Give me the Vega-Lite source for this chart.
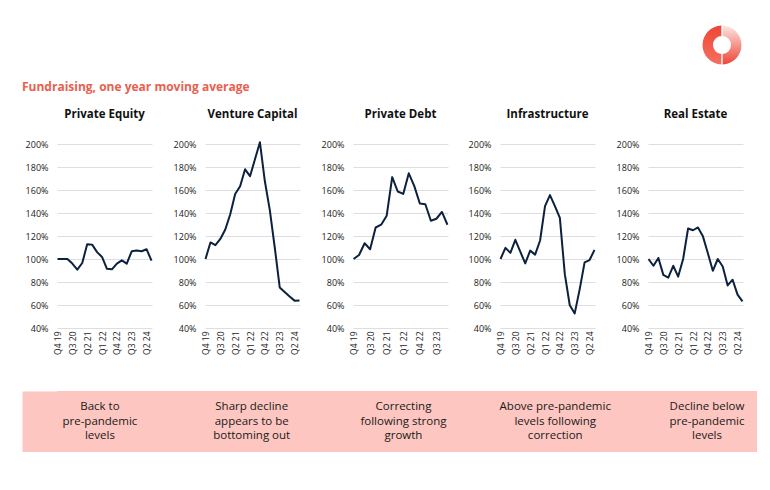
{
  "$schema": "https://vega.github.io/schema/vega-lite/v6.json",
  "padding": {"left": 22, "top": 23, "right": 0, "bottom": 0},
  "config": {"font": "Open Sans", "view": {"stroke": null}},
  "spacing": 13,
  "vconcat": [
    {
      "width": 700,
      "height": 44,
      "data": {"values": [{"part": "right", "share": 1}, {"part": "left", "share": 1}]},
      "transform": [{"stack": "share", "groupby": [], "as": ["a0", "a1"]}],
      "layer": [
        {
          "transform": [{"filter": "datum.part == 'right'"}],
          "mark": {"type": "arc", "innerRadius": 9, "outerRadius": 19.5, "padAngle": 0.06,
            "fill": {"gradient": "linear", "x1": 0, "y1": 0, "x2": 0, "y2": 1, "stops": [{"offset": 0, "color": "#fde6e2"}, {"offset": 1, "color": "#ef4536"}]}},
          "encoding": {
            "theta": {"field": "a0", "type": "quantitative", "scale": {"domain": [0, 2]}},
            "theta2": {"field": "a1"},
            "x": {"datum": 0.95, "type": "quantitative", "scale": {"domain": [0, 1], "nice": false, "zero": false}, "axis": null}
          }
        },
        {
          "transform": [{"filter": "datum.part == 'left'"}],
          "mark": {"type": "arc", "innerRadius": 9, "outerRadius": 19.5, "padAngle": 0.06,
            "fill": {"gradient": "linear", "x1": 0, "y1": 0, "x2": 0, "y2": 1, "stops": [{"offset": 0, "color": "#ef4536"}, {"offset": 1, "color": "#f4705f"}]}},
          "encoding": {
            "theta": {"field": "a0", "type": "quantitative", "scale": {"domain": [0, 2]}},
            "theta2": {"field": "a1"},
            "x": {"datum": 0.95, "type": "quantitative", "scale": {"domain": [0, 1], "nice": false, "zero": false}, "axis": null}
          }
        }
      ]
    },
    {
      "spacing": 36,
      "vconcat": [
        {
          "title": {"text": "Fundraising, one year moving average", "anchor": "start", "fontSize": 12, "fontWeight": "bold", "color": "#e9604f", "offset": 15},
          "data": {"values": [
            {"asset": "Private Equity", "quarter": "Q4 19", "value": 100},
            {"asset": "Private Equity", "quarter": "Q1 20", "value": 100},
            {"asset": "Private Equity", "quarter": "Q2 20", "value": 100},
            {"asset": "Private Equity", "quarter": "Q3 20", "value": 96},
            {"asset": "Private Equity", "quarter": "Q4 20", "value": 90.7},
            {"asset": "Private Equity", "quarter": "Q1 21", "value": 96.5},
            {"asset": "Private Equity", "quarter": "Q2 21", "value": 112.8},
            {"asset": "Private Equity", "quarter": "Q3 21", "value": 112.5},
            {"asset": "Private Equity", "quarter": "Q4 21", "value": 106},
            {"asset": "Private Equity", "quarter": "Q1 22", "value": 101.8},
            {"asset": "Private Equity", "quarter": "Q2 22", "value": 91.5},
            {"asset": "Private Equity", "quarter": "Q3 22", "value": 91},
            {"asset": "Private Equity", "quarter": "Q4 22", "value": 96},
            {"asset": "Private Equity", "quarter": "Q1 23", "value": 98.8},
            {"asset": "Private Equity", "quarter": "Q2 23", "value": 96},
            {"asset": "Private Equity", "quarter": "Q3 23", "value": 106.7},
            {"asset": "Private Equity", "quarter": "Q4 23", "value": 107.3},
            {"asset": "Private Equity", "quarter": "Q1 24", "value": 106.7},
            {"asset": "Private Equity", "quarter": "Q2 24", "value": 108.5},
            {"asset": "Private Equity", "quarter": "Q3 24", "value": 98.5},
            {"asset": "Venture Capital", "quarter": "Q4 19", "value": 100},
            {"asset": "Venture Capital", "quarter": "Q1 20", "value": 114.4},
            {"asset": "Venture Capital", "quarter": "Q2 20", "value": 112},
            {"asset": "Venture Capital", "quarter": "Q3 20", "value": 117.4},
            {"asset": "Venture Capital", "quarter": "Q4 20", "value": 125.6},
            {"asset": "Venture Capital", "quarter": "Q1 21", "value": 138.9},
            {"asset": "Venture Capital", "quarter": "Q2 21", "value": 156.5},
            {"asset": "Venture Capital", "quarter": "Q3 21", "value": 163.3},
            {"asset": "Venture Capital", "quarter": "Q4 21", "value": 178},
            {"asset": "Venture Capital", "quarter": "Q1 22", "value": 172},
            {"asset": "Venture Capital", "quarter": "Q2 22", "value": 186.8},
            {"asset": "Venture Capital", "quarter": "Q3 22", "value": 201.5},
            {"asset": "Venture Capital", "quarter": "Q4 22", "value": 167.6},
            {"asset": "Venture Capital", "quarter": "Q1 23", "value": 142.5},
            {"asset": "Venture Capital", "quarter": "Q2 23", "value": 110},
            {"asset": "Venture Capital", "quarter": "Q3 23", "value": 75.3},
            {"asset": "Venture Capital", "quarter": "Q4 23", "value": 71.4},
            {"asset": "Venture Capital", "quarter": "Q1 24", "value": 67.4},
            {"asset": "Venture Capital", "quarter": "Q2 24", "value": 63.8},
            {"asset": "Venture Capital", "quarter": "Q3 24", "value": 64},
            {"asset": "Private Debt", "quarter": "Q4 19", "value": 100},
            {"asset": "Private Debt", "quarter": "Q1 20", "value": 103.5},
            {"asset": "Private Debt", "quarter": "Q2 20", "value": 113.7},
            {"asset": "Private Debt", "quarter": "Q3 20", "value": 108.5},
            {"asset": "Private Debt", "quarter": "Q4 20", "value": 127.4},
            {"asset": "Private Debt", "quarter": "Q1 21", "value": 129.8},
            {"asset": "Private Debt", "quarter": "Q2 21", "value": 137.7},
            {"asset": "Private Debt", "quarter": "Q3 21", "value": 171.2},
            {"asset": "Private Debt", "quarter": "Q4 21", "value": 158.7},
            {"asset": "Private Debt", "quarter": "Q1 22", "value": 156.6},
            {"asset": "Private Debt", "quarter": "Q2 22", "value": 174.5},
            {"asset": "Private Debt", "quarter": "Q3 22", "value": 163.4},
            {"asset": "Private Debt", "quarter": "Q4 22", "value": 148.2},
            {"asset": "Private Debt", "quarter": "Q1 23", "value": 147.6},
            {"asset": "Private Debt", "quarter": "Q2 23", "value": 133.3},
            {"asset": "Private Debt", "quarter": "Q3 23", "value": 135},
            {"asset": "Private Debt", "quarter": "Q4 23", "value": 140.9},
            {"asset": "Private Debt", "quarter": "Q1 24", "value": 129.8},
            {"asset": "Infrastructure", "quarter": "Q4 19", "value": 100},
            {"asset": "Infrastructure", "quarter": "Q1 20", "value": 109.7},
            {"asset": "Infrastructure", "quarter": "Q2 20", "value": 105.3},
            {"asset": "Infrastructure", "quarter": "Q3 20", "value": 116.7},
            {"asset": "Infrastructure", "quarter": "Q4 20", "value": 106.4},
            {"asset": "Infrastructure", "quarter": "Q1 21", "value": 96.2},
            {"asset": "Infrastructure", "quarter": "Q2 21", "value": 107.3},
            {"asset": "Infrastructure", "quarter": "Q3 21", "value": 103.8},
            {"asset": "Infrastructure", "quarter": "Q4 21", "value": 116.1},
            {"asset": "Infrastructure", "quarter": "Q1 22", "value": 146},
            {"asset": "Infrastructure", "quarter": "Q2 22", "value": 155.6},
            {"asset": "Infrastructure", "quarter": "Q3 22", "value": 146},
            {"asset": "Infrastructure", "quarter": "Q4 22", "value": 135.7},
            {"asset": "Infrastructure", "quarter": "Q1 23", "value": 86.8},
            {"asset": "Infrastructure", "quarter": "Q2 23", "value": 59.8},
            {"asset": "Infrastructure", "quarter": "Q3 23", "value": 52.7},
            {"asset": "Infrastructure", "quarter": "Q4 23", "value": 73.6},
            {"asset": "Infrastructure", "quarter": "Q1 24", "value": 97.1},
            {"asset": "Infrastructure", "quarter": "Q2 24", "value": 99.1},
            {"asset": "Infrastructure", "quarter": "Q3 24", "value": 107.9},
            {"asset": "Real Estate", "quarter": "Q4 19", "value": 100},
            {"asset": "Real Estate", "quarter": "Q1 20", "value": 94.1},
            {"asset": "Real Estate", "quarter": "Q2 20", "value": 100.9},
            {"asset": "Real Estate", "quarter": "Q3 20", "value": 86.2},
            {"asset": "Real Estate", "quarter": "Q4 20", "value": 83.8},
            {"asset": "Real Estate", "quarter": "Q1 21", "value": 94.1},
            {"asset": "Real Estate", "quarter": "Q2 21", "value": 84.7},
            {"asset": "Real Estate", "quarter": "Q3 21", "value": 100},
            {"asset": "Real Estate", "quarter": "Q4 21", "value": 126.5},
            {"asset": "Real Estate", "quarter": "Q1 22", "value": 125},
            {"asset": "Real Estate", "quarter": "Q2 22", "value": 127.4},
            {"asset": "Real Estate", "quarter": "Q3 22", "value": 119.7},
            {"asset": "Real Estate", "quarter": "Q4 22", "value": 105},
            {"asset": "Real Estate", "quarter": "Q1 23", "value": 89.7},
            {"asset": "Real Estate", "quarter": "Q2 23", "value": 100},
            {"asset": "Real Estate", "quarter": "Q3 23", "value": 93.5},
            {"asset": "Real Estate", "quarter": "Q4 23", "value": 77},
            {"asset": "Real Estate", "quarter": "Q1 24", "value": 82},
            {"asset": "Real Estate", "quarter": "Q2 24", "value": 69},
            {"asset": "Real Estate", "quarter": "Q3 24", "value": 63.2}
          ]},
          "facet": {
            "column": {
              "field": "asset", "type": "nominal",
              "sort": ["Private Equity", "Venture Capital", "Private Debt", "Infrastructure", "Real Estate"],
              "title": null,
              "header": {"labelFontSize": 11.5, "labelFontWeight": "bold", "labelColor": "#111111", "labelPadding": 20, "labelFont": "Open Sans"}
            }
          },
          "spacing": 13,
          "resolve": {"scale": {"x": "independent"}, "axis": {"x": "independent", "y": "independent"}},
          "spec": {
            "width": 95,
            "height": 184,
            "mark": {"type": "line", "color": "#0c213d", "strokeWidth": 2, "strokeJoin": "round"},
            "encoding": {
              "x": {
                "field": "quarter", "type": "ordinal", "sort": null,
                "scale": {"type": "point", "padding": 0.1},
                "axis": {
                  "title": null, "domain": false, "ticks": false, "grid": false,
                  "labelAngle": 270, "labelFontSize": 8.5, "labelColor": "#222222", "labelPadding": 3, "labelOverlap": false,
                  "labelExpr": "indexof(['Q4 19','Q3 20','Q2 21','Q1 22','Q4 22','Q3 23','Q2 24'], datum.label) >= 0 ? datum.label : ''"
                }
              },
              "y": {
                "field": "value", "type": "quantitative",
                "scale": {"domain": [40, 200], "nice": false, "zero": false},
                "axis": {
                  "title": null, "domain": false, "ticks": false, "grid": true, "gridColor": "#dedede", "gridWidth": 1,
                  "values": [40, 60, 80, 100, 120, 140, 160, 180, 200],
                  "labelExpr": "datum.value + '%'", "labelFontSize": 9, "labelColor": "#222222", "labelPadding": 9, "minExtent": 35
                }
              }
            }
          }
        },
        {
          "width": 700,
          "height": 61,
          "view": {"fill": "#fdc6c0", "stroke": null},
          "data": {"values": [
            {"asset": "Private Equity", "note": "Back to\npre-pandemic\nlevels"},
            {"asset": "Venture Capital", "note": "Sharp decline\nappears to be\nbottoming out"},
            {"asset": "Private Debt", "note": "Correcting\nfollowing strong\ngrowth"},
            {"asset": "Infrastructure", "note": "Above pre-pandemic\nlevels following\ncorrection"},
            {"asset": "Real Estate", "note": "Decline below\npre-pandemic\nlevels"}
          ]},
          "mark": {"type": "text", "lineBreak": "\n", "fontSize": 11.5, "lineHeight": 14.5, "dy": -14.5, "color": "#1a1a1a", "font": "Open Sans"},
          "encoding": {
            "x": {
              "field": "asset", "type": "nominal",
              "sort": ["Private Equity", "Venture Capital", "Private Debt", "Infrastructure", "Real Estate"],
              "scale": {"type": "point", "padding": 0.306, "align": 0.462},
              "axis": null
            },
            "y": {
              "datum": "band", "type": "nominal",
              "axis": {"title": null, "labels": false, "ticks": false, "domain": true, "domainColor": "#fdc6c0", "domainWidth": 35, "domainCap": "butt", "offset": 17.5}
            },
            "text": {"field": "note"}
          }
        }
      ]
    }
  ]
}
